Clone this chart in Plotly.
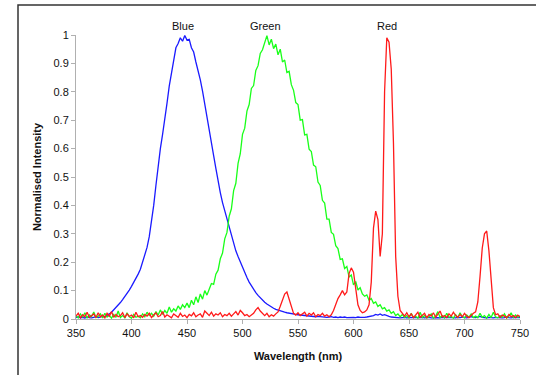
import plotly.graph_objects as go

wavelength_nm = list(range(350, 752, 2))

blue = [
    0.005, 0.008, 0.004, 0.006, 0.003, 0.007, 0.005, 0.004, 0.006, 0.008,
    0.005, 0.007, 0.009, 0.008, 0.012, 0.018, 0.024, 0.032, 0.040, 0.048,
    0.058, 0.068, 0.078, 0.090, 0.102, 0.115, 0.128, 0.142, 0.158, 0.175,
    0.198, 0.222, 0.252, 0.290, 0.340, 0.400, 0.470, 0.540, 0.600, 0.650,
    0.700, 0.760, 0.820, 0.870, 0.915, 0.955, 0.970, 0.990, 0.978, 0.998,
    0.982, 0.985, 0.955, 0.940, 0.905, 0.878, 0.842, 0.802, 0.758, 0.722,
    0.670, 0.620, 0.575, 0.530, 0.480, 0.445, 0.410, 0.380, 0.350, 0.320,
    0.290, 0.265, 0.240, 0.220, 0.200, 0.180, 0.162, 0.146, 0.130, 0.116,
    0.104, 0.093, 0.083, 0.074, 0.066, 0.059, 0.053, 0.047, 0.042, 0.038,
    0.034, 0.031, 0.028, 0.026, 0.024, 0.022, 0.020, 0.019, 0.017, 0.016,
    0.015, 0.014, 0.013, 0.012, 0.011, 0.010, 0.010, 0.009, 0.008, 0.009,
    0.008, 0.007, 0.008, 0.006, 0.007, 0.008, 0.006, 0.007, 0.005, 0.007,
    0.006, 0.007, 0.005, 0.006, 0.007, 0.006, 0.005, 0.007, 0.006, 0.005,
    0.006, 0.007, 0.008, 0.010, 0.012, 0.016, 0.014, 0.018, 0.013, 0.015,
    0.011, 0.009, 0.007, 0.006, 0.005, 0.006, 0.004, 0.005, 0.006, 0.004,
    0.005, 0.004, 0.006, 0.005, 0.004, 0.005, 0.006, 0.004, 0.005, 0.006,
    0.004, 0.005, 0.006, 0.005, 0.004, 0.006, 0.005, 0.004, 0.005, 0.006,
    0.005, 0.004, 0.006, 0.005, 0.007, 0.005, 0.004, 0.006, 0.008, 0.006,
    0.005, 0.007, 0.009, 0.006, 0.005, 0.004, 0.006, 0.005, 0.004, 0.006,
    0.005, 0.006, 0.004, 0.005, 0.007, 0.005, 0.004, 0.006, 0.005, 0.006,
    0.005,
]

green = [
    0.012, 0.004, 0.018, 0.006, 0.022, 0.003, 0.015, 0.008, 0.025, 0.005,
    0.010, 0.018, 0.004, 0.020, 0.007, 0.013, 0.003, 0.016, 0.006, 0.028,
    0.005, 0.012, 0.004, 0.022, 0.008, 0.003, 0.016, 0.006, 0.010, 0.004,
    0.018, 0.008, 0.024, 0.012, 0.020, 0.010, 0.026, 0.014, 0.032, 0.016,
    0.030, 0.020, 0.042, 0.024, 0.036, 0.028, 0.046, 0.034, 0.050, 0.040,
    0.056, 0.040, 0.066, 0.050, 0.078, 0.058, 0.088, 0.070, 0.100, 0.084,
    0.105, 0.125, 0.122, 0.158, 0.172, 0.212, 0.232, 0.282, 0.305, 0.362,
    0.388, 0.452, 0.478, 0.548, 0.582, 0.650, 0.672, 0.732, 0.755, 0.812,
    0.822, 0.875, 0.892, 0.935, 0.948, 0.975, 0.998, 0.965, 0.985, 0.952,
    0.968, 0.930, 0.950, 0.905, 0.912, 0.868, 0.872, 0.825, 0.805, 0.762,
    0.755, 0.700, 0.702, 0.648, 0.650, 0.598, 0.590, 0.542, 0.536, 0.482,
    0.470, 0.418, 0.408, 0.352, 0.352, 0.305, 0.298, 0.258, 0.248, 0.210,
    0.212, 0.178, 0.185, 0.148, 0.155, 0.120, 0.132, 0.102, 0.110, 0.088,
    0.080, 0.085, 0.066, 0.072, 0.055, 0.060, 0.044, 0.050, 0.036, 0.040,
    0.028, 0.032, 0.020, 0.026, 0.012, 0.018, 0.008, 0.016, 0.005, 0.012,
    0.004, 0.020, 0.006, 0.010, 0.003, 0.024, 0.005, 0.012, 0.004, 0.008,
    0.018, 0.003, 0.010, 0.026, 0.005, 0.012, 0.004, 0.020, 0.006, 0.009,
    0.003, 0.015, 0.005, 0.022, 0.008, 0.004, 0.014, 0.006, 0.018, 0.005,
    0.010, 0.004, 0.020, 0.006, 0.012, 0.003, 0.016, 0.005, 0.024, 0.007,
    0.004, 0.012, 0.006, 0.018, 0.003, 0.010, 0.022, 0.005, 0.014, 0.006,
    0.010,
]

red = [
    0.010, 0.020, 0.004, 0.015, 0.008, 0.024, 0.006, 0.012, 0.018, 0.005,
    0.022, 0.008, 0.014, 0.004, 0.020, 0.010, 0.026, 0.006, 0.016, 0.008,
    0.012, 0.022, 0.005, 0.018, 0.009, 0.014, 0.004, 0.024, 0.008, 0.012,
    0.006, 0.016, 0.010, 0.020, 0.005, 0.014, 0.022, 0.008, 0.012, 0.026,
    0.007, 0.015, 0.010, 0.004, 0.018, 0.012, 0.006, 0.020, 0.009, 0.014,
    0.005, 0.016, 0.011, 0.022, 0.008, 0.014, 0.018, 0.006, 0.028, 0.020,
    0.012, 0.024, 0.010, 0.018, 0.014, 0.022, 0.008, 0.016, 0.012, 0.020,
    0.010, 0.018, 0.026, 0.014, 0.030, 0.022, 0.012, 0.016, 0.008, 0.014,
    0.020, 0.032, 0.040, 0.028, 0.018, 0.012, 0.020, 0.008, 0.015, 0.010,
    0.018, 0.025, 0.045, 0.070, 0.088, 0.095, 0.070, 0.040, 0.020, 0.014,
    0.022, 0.012, 0.018, 0.024, 0.010, 0.020, 0.014, 0.022, 0.008, 0.016,
    0.012, 0.020, 0.010, 0.015, 0.008, 0.015, 0.030, 0.055, 0.072, 0.085,
    0.100, 0.085, 0.095, 0.160, 0.180, 0.165, 0.110, 0.050, 0.030, 0.022,
    0.025, 0.032, 0.050, 0.130, 0.320, 0.380, 0.350, 0.220, 0.300, 0.800,
    0.990, 0.975, 0.880, 0.620, 0.220, 0.080, 0.030, 0.018, 0.010, 0.022,
    0.008, 0.018, 0.005, 0.014, 0.024, 0.006, 0.012, 0.020, 0.004, 0.016,
    0.010, 0.022, 0.006, 0.015, 0.028, 0.008, 0.012, 0.005, 0.018, 0.010,
    0.024, 0.012, 0.006, 0.016, 0.008, 0.020, 0.010, 0.005, 0.014, 0.020,
    0.025, 0.060, 0.150, 0.250, 0.300, 0.310, 0.240, 0.130, 0.040, 0.015,
    0.018, 0.006, 0.014, 0.010, 0.004, 0.016, 0.008, 0.012, 0.005, 0.014,
    0.008,
]

series_names = ["Blue", "Green", "Red"]
series_colors = ["#1a1aff", "#19ff19", "#ff1a1a"]
label_positions_nm = [446, 521, 630]
x_ticks = [350, 400, 450, 500, 550, 600, 650, 700, 750]
y_ticks = [0, 0.1, 0.2, 0.3, 0.4, 0.5, 0.6, 0.7, 0.8, 0.9, 1]
y_tick_text = ["0", "0.1", "0.2", "0.3", "0.4", "0.5", "0.6", "0.7", "0.8", "0.9", "1"]

FONT = "Liberation Sans, Arial, sans-serif"

fig = go.Figure()
for name, vals, col in zip(series_names, [blue, green, red], series_colors):
    fig.add_trace(go.Scatter(
        x=wavelength_nm, y=vals, mode="lines", name=name,
        line=dict(color=col, width=1.3),
    ))

for name, pos in zip(series_names, label_positions_nm):
    fig.add_annotation(
        x=pos, y=1.06, xref="x", yref="paper", text=name, showarrow=False,
        font=dict(family=FONT, size=11, color="#111"),
    )

W, H = 536, 375
L, R, T, B = 76, 16, 35, 56
pw, ph = W - L - R, H - T - B

def px_to_paper_x(px):
    return (px - L) / pw

def px_to_paper_y(py):
    return (H - B - py) / ph

fig.add_shape(
    type="rect", xref="paper", yref="paper",
    x0=px_to_paper_x(18), x1=px_to_paper_x(W + 10),
    y0=px_to_paper_y(H + 10), y1=px_to_paper_y(5),
    line=dict(color="#333", width=1.5), fillcolor="rgba(0,0,0,0)", layer="below",
)

fig.update_layout(
    width=W, height=H,
    margin=dict(l=L, r=R, t=T, b=B, autoexpand=False),
    paper_bgcolor="white", plot_bgcolor="white",
    showlegend=False,
    font=dict(family=FONT, size=11, color="#111"),
    xaxis=dict(
        range=[350, 750], tickvals=x_ticks, showgrid=False, zeroline=False,
        automargin=False,
        showline=True, linecolor="#b0b0b0", linewidth=1,
        ticks="outside", ticklen=4, tickcolor="#b0b0b0",
        tickfont=dict(family=FONT, size=11, color="#111"),
        title=dict(text="<b>Wavelength (nm)</b>", standoff=14,
                   font=dict(family=FONT, size=11, color="#111")),
    ),
    yaxis=dict(
        range=[0, 1], tickvals=y_ticks, ticktext=y_tick_text,
        showgrid=False, zeroline=False,
        automargin=False,
        showline=True, linecolor="#b0b0b0", linewidth=1,
        ticks="outside", ticklen=4, tickcolor="#b0b0b0",
        tickfont=dict(family=FONT, size=11, color="#111"),
        title=dict(text="<b>Normalised Intensity</b>", standoff=9,
                   font=dict(family=FONT, size=11, color="#111")),
    ),
)

fig.write_html(
    "out.html",
    config={"displayModeBar": False},
    post_script="document.body.style.margin='0';document.body.style.overflow='hidden';",
)
